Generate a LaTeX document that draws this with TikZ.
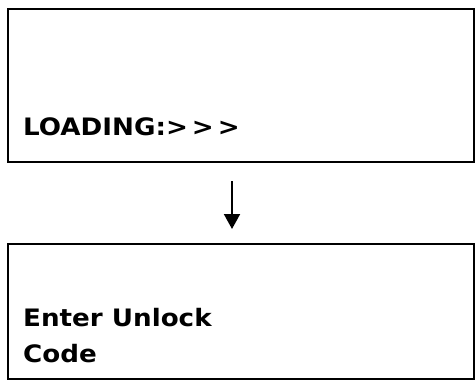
\documentclass[tikz,border=0pt]{standalone}
\usepackage{fontspec}
\setmainfont{DejaVu Sans}[Ligatures=ResetAll,FakeStretch=1.09]
\usetikzlibrary{arrows.meta}
\begin{document}
\begin{tikzpicture}[x=1pt,y=-1pt,
  screen/.style={draw=black,line width=2pt,minimum width=466pt,inner sep=0pt,anchor=north west},
  lbl/.style={anchor=base west,inner sep=0pt,font=\fontsize{24}{28}\selectfont\bfseries},
  flow/.style={line width=2pt,-{Triangle[length=15pt,width=16pt]}}]
\useasboundingbox (0,0) rectangle (475,381);
\node[screen,minimum height=153pt] (top) at (7,8) {};
\node[screen,minimum height=135pt] (bot) at (7,243) {};
\node[lbl] (t1) at (23,135) {LOADING:\textgreater\,\textgreater\,\textgreater};
\node[lbl] (t2) at (23,326) {Enter Unlock};
\node[lbl] (t3) at (23,362) {Code};
\coordinate (a1) at (232,181);
\coordinate (a2) at (232,229);
\draw[flow] (a1) -- (a2);
\end{tikzpicture}
\end{document}
